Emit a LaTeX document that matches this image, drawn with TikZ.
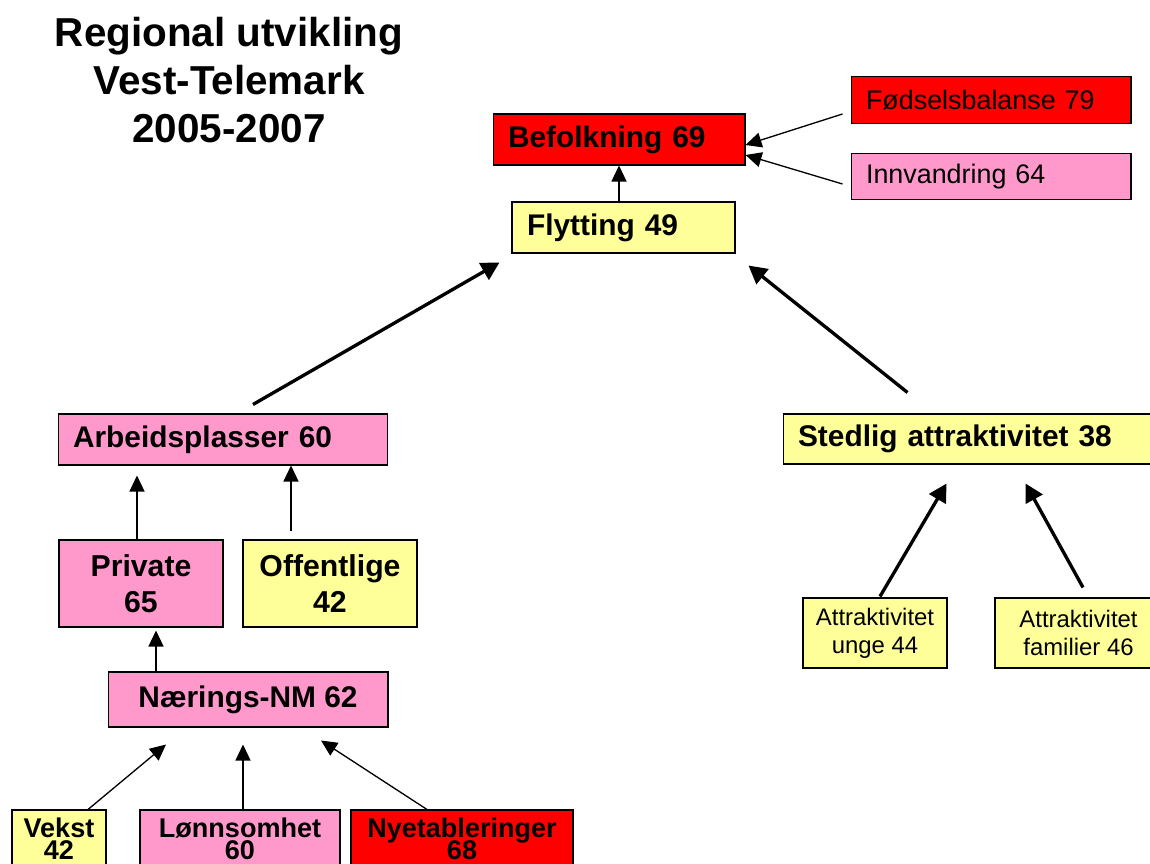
\documentclass[tikz,border=0pt]{standalone}
\usepackage{fontspec}
\setmainfont{Liberation Sans}
\usetikzlibrary{arrows.meta,calc}
\definecolor{BoxRed}{HTML}{FF0000}
\definecolor{BoxPink}{HTML}{FF99CC}
\definecolor{BoxYellow}{HTML}{FFFF99}
\newcommand\tightlines{\lineskiplimit=-20pt\relax\lineskip=0pt\relax}

\begin{document}
\begin{tikzpicture}[x=0.02cm,y=-0.02cm,
  box/.style={draw,line width=0.6pt,inner sep=0pt},
  lbox/.style={box,align=left,inner xsep=0.3cm,minimum height=1.02cm,
    font=\fontsize{17}{20}\selectfont\bfseries},
  sbox/.style={box,align=left,inner xsep=0.3cm,minimum height=0.93cm,
    font=\fontsize{15.3}{18}\selectfont},
  cbox/.style={box,align=center,minimum height=1.74cm,
    font=\fontsize{17.2}{20.5}\selectfont\bfseries},
  abox/.style={box,align=center,minimum height=1.4cm,fill=BoxYellow,
    font=\fontsize{13.6}{16}\selectfont},
  bbox/.style={box,align=center,minimum height=1.14cm,text height=24pt,text depth=0pt,
    font=\fontsize{15.4}{12.6}\selectfont\bfseries\tightlines},
  arr/.style={-{Triangle[length=0.32cm,width=0.3cm]},line width=0.75pt},
  bigarr/.style={-{Triangle[length=0.36cm,width=0.38cm]},line width=1.9pt}]
  \useasboundingbox (0,0) rectangle (1150,864);

  % title
  \node[align=center,font=\fontsize{23}{27.3}\selectfont\bfseries] (title) at (229,80)
    {Regional utvikling\\Vest-Telemark\\2005-2007};

  % top level
  \node[lbox,fill=BoxRed,text width=4.44cm] (befolk) at (619,139.5) {Befolkning 69};
  \node[sbox,fill=BoxRed,text width=5.0cm] (fodsel) at (991,100) {Fødselsbalanse 79};
  \node[sbox,fill=BoxPink,text width=5.0cm] (innv) at (991,176.5) {Innvandring 64};
  \node[lbox,fill=BoxYellow,text width=3.86cm] (flytting) at (623.5,227.5) {Flytting 49};

  % middle level
  \node[lbox,fill=BoxPink,text width=6.0cm] (arbeid) at (223,439.5) {Arbeidsplasser 60};
  \node[lbox,fill=BoxYellow,text width=6.88cm,minimum height=1.0cm] (stedlig) at (970,439)
    {Stedlig attraktivitet 38};

  \node[cbox,fill=BoxPink,minimum width=3.28cm] (private) at (141,583.5) {Private\\65};
  \node[cbox,fill=BoxYellow,minimum width=3.48cm] (offentlig) at (330,583.5) {Offentlige\\42};
  \node[box,fill=BoxPink,minimum width=5.6cm,minimum height=1.1cm,
    font=\fontsize{17}{20}\selectfont\bfseries] (naering) at (248,699.5) {Nærings-NM 62};

  \node[abox,minimum width=2.88cm] (unge) at (875,633) {Attraktivitet\\unge 44};
  \node[abox,minimum width=3.34cm] (familier) at (1078.5,633) {Attraktivitet\\familier 46};

  % bottom row
  \node[bbox,fill=BoxYellow,minimum width=1.88cm] (vekst) at (59,838.5) {Vekst\\42};
  \node[bbox,fill=BoxPink,minimum width=4.0cm] (lonn) at (240,838.5) {Lønnsomhet\\60};
  \node[bbox,fill=BoxRed,minimum width=4.44cm] (nyetab) at (462,838.5) {Nyetableringer\\68};

  % connectors
  \draw[arr] (flytting.north -| befolk) -- (befolk.south);
  \draw[arr] ($(fodsel.west)+(-8,14)$) -- ($(befolk.east)+(0,5.5)$);
  \draw[arr] ($(innv.west)+(-8,7.5)$) -- ($(befolk.east)+(0,15.5)$);

  \draw[bigarr] ($(arbeid.north)+(30,-9)$) -- ($(flytting.south west)+(-12,9)$);
  \draw[bigarr] ($(stedlig.north west)+(125,-21)$) -- ($(flytting.south east)+(13,12)$);

  \draw[arr] ($(private.north)+(-4,0)$) -- ($(arbeid.south)+(-86,10)$);
  \draw[arr] ($(offentlig.north)+(-39,-8)$) -- ($(arbeid.south)+(68,0)$);
  \draw[arr] ($(naering.north)+(-92,0)$) -- ($(private.south)+(15,3)$);

  \draw[arr] ($(vekst.north)+(29,0)$) -- ($(naering.south)+(-82,17)$);
  \draw[arr] ($(lonn.north)+(3,0)$) -- ($(naering.south)+(-5,17)$);
  \draw[arr] ($(nyetab.north)+(-35,0)$) -- ($(naering.south)+(73,13)$);

  \draw[bigarr] ($(unge.north)+(5,-1)$) -- ($(stedlig.south west)+(164,19)$);
  \draw[bigarr] ($(familier.north)+(4.5,-10)$) -- ($(stedlig.south west)+(243,19)$);
\end{tikzpicture}
\end{document}
